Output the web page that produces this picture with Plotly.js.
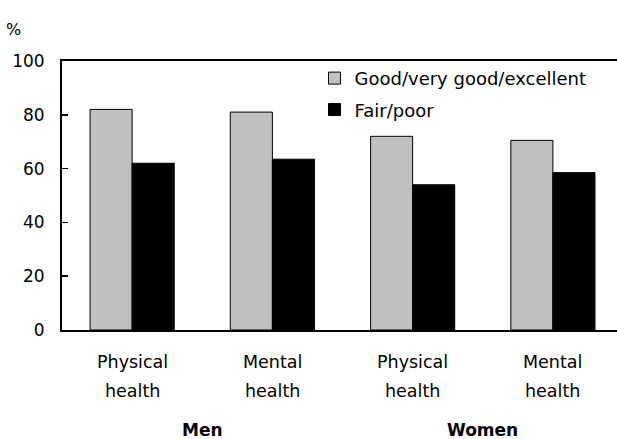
<!DOCTYPE html>
<html>
<head>
<meta charset="utf-8">
<script src="https://cdn.plot.ly/plotly-3.0.1.min.js"></script>
<style>html,body{margin:0;padding:0;background:#fff;}#chart{width:617px;height:439px;}</style>
</head>
<body>
<div id="chart"></div>
<script>
var catLine1 = ['Physical', 'Mental', 'Physical', 'Mental'];
var catLine2 = ['health', 'health', 'health', 'health'];
var groups = ['Men', 'Women'];
var groupCats = [[0, 1], [2, 3]];
var seriesNames = ['Good/very good/excellent', 'Fair/poor'];
var goodVals = [82, 81, 72, 70.5];
var fairVals = [62, 63.5, 54, 58.5];
var yTicks = [0, 20, 40, 60, 80, 100];

var FONT = 'DejaVu Sans';
var xIdx = catLine1.map(function (_, i) { return i; });

var traces = [
  {type: 'bar', name: seriesNames[0], x: xIdx, y: goodVals, legendgroup: 'a',
   marker: {color: '#c0c0c0', line: {color: '#000', width: 1}}, hoverinfo: 'skip'},
  {type: 'bar', name: seriesNames[1], x: xIdx, y: fairVals, legendgroup: 'b',
   marker: {color: '#000', line: {color: '#000', width: 1}}, hoverinfo: 'skip'}
];

var ann = [];
xIdx.forEach(function (i) {
  ann.push({xref: 'x', yref: 'paper', x: i, y: -0.163, text: catLine1[i], showarrow: false,
            font: {family: FONT, size: 17.5, color: '#000'}});
  ann.push({xref: 'x', yref: 'paper', x: i, y: -0.272, text: catLine2[i], showarrow: false,
            font: {family: FONT, size: 17.5, color: '#000'}});
});
groups.forEach(function (g, k) {
  var c = groupCats[k];
  ann.push({xref: 'x', yref: 'paper', x: (c[0] + c[c.length - 1]) / 2, y: -0.418, text: '<b>' + g + '</b>',
            showarrow: false, font: {family: FONT, size: 17, color: '#000'}});
});
ann.push({xref: 'paper', yref: 'paper', x: -0.088, y: 1.16, xanchor: 'center', text: '%', showarrow: false,
          font: {family: FONT, size: 16, color: '#000'}});

var layout = {
  width: 617, height: 439,
  margin: {l: 62, r: 0, t: 61, b: 109},
  paper_bgcolor: '#fff', plot_bgcolor: '#fff',
  barmode: 'group', bargap: 0.4, bargroupgap: 0,
  showlegend: true,
  legend: {x: 0.455, xanchor: 'left', y: 1.004, yanchor: 'top', traceorder: 'grouped', tracegroupgap: 5,
           font: {family: FONT, size: 18, color: '#000'}, bgcolor: 'rgba(0,0,0,0)'},
  xaxis: {range: [-0.5, 3.457], showticklabels: false, ticks: '', showgrid: false, zeroline: false,
          showline: true, linecolor: '#000', linewidth: 2, mirror: true, fixedrange: true},
  yaxis: {range: [0, 100], tickvals: yTicks, ticktext: yTicks.map(String), ticks: 'inside', ticklen: 6,
          tickwidth: 1.5, tickcolor: '#000', showgrid: false, zeroline: false, showline: true,
          linecolor: '#000', linewidth: 2, ticklabelstandoff: 12,
          tickfont: {family: FONT, size: 17, color: '#000'}, fixedrange: true},
  annotations: ann
};

Plotly.newPlot('chart', traces, layout, {displayModeBar: false, staticPlot: true});
</script>
</body>
</html>
